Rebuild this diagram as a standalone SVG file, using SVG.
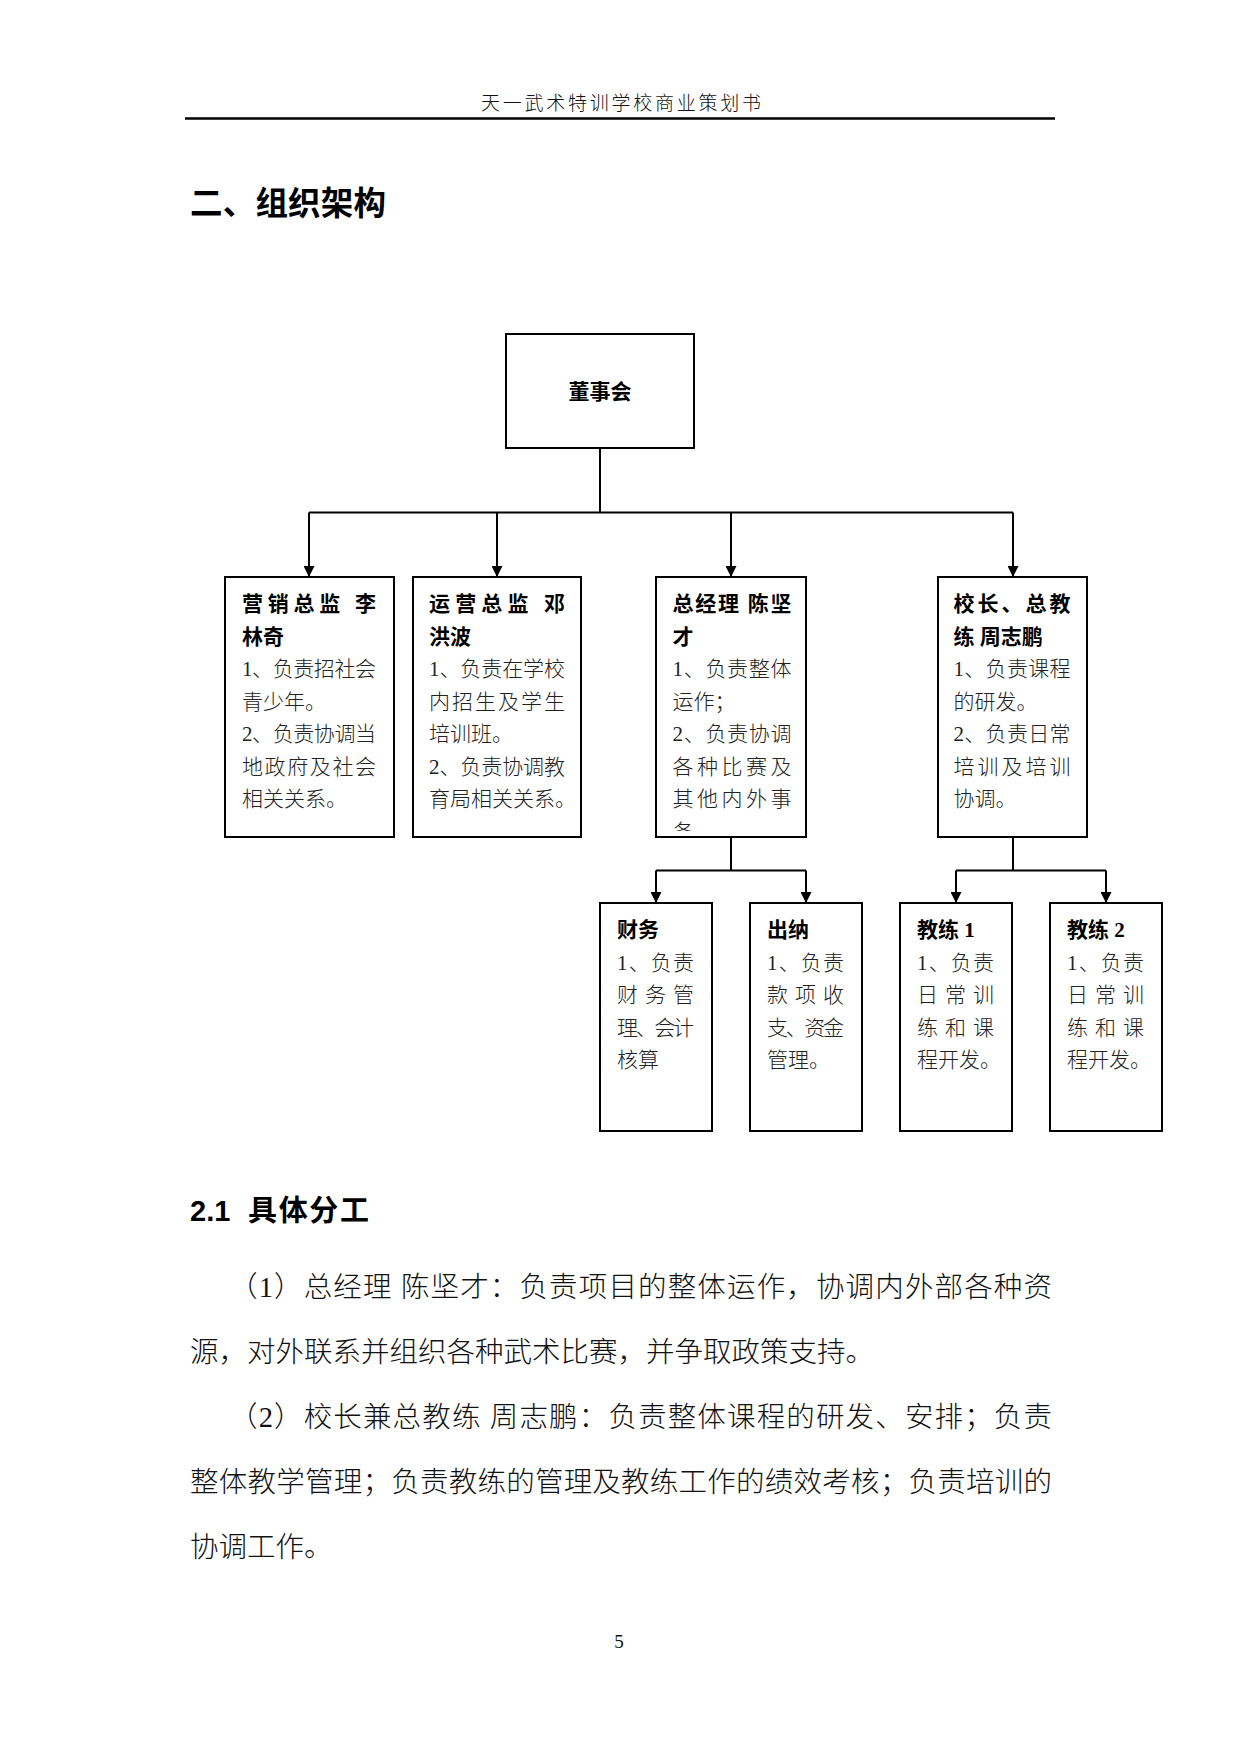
<svg xmlns="http://www.w3.org/2000/svg" width="1241" height="1754" viewBox="0 0 1241 1754">
<style>
.box{fill:#fff;stroke:#000;stroke-width:2}
.conn{fill:none;stroke:#000;stroke-width:2}
.arr{fill:none;stroke:#000;stroke-width:2;marker-end:url(#ah)}
.t{font-family:"Liberation Serif","Noto Sans CJK SC",serif;font-size:21px;font-weight:300;fill:#222}
.b{font-family:"Liberation Serif","Noto Sans CJK SC",sans-serif;font-size:21px;font-weight:bold;fill:#000}
.body{font-family:"Liberation Serif","Noto Sans CJK SC",serif;font-size:28.5px;font-weight:300;fill:#111}
.hdr{font-family:"Liberation Serif","Noto Sans CJK SC",serif;font-size:19px;font-weight:300;fill:#111}
.h1{font-family:"Liberation Sans","Noto Sans CJK SC",sans-serif;font-size:32.5px;font-weight:bold;fill:#000}
.h2{font-family:"Liberation Sans","Noto Sans CJK SC",sans-serif;font-size:29px;font-weight:bold;fill:#000}
</style>
<defs>
<marker id="ah" viewBox="0 0 10 10" refX="10" refY="5" markerWidth="12" markerHeight="11" markerUnits="userSpaceOnUse" orient="auto"><path d="M0,0 L10,5 L0,10 z" fill="#000"/></marker>
<clipPath id="clipC"><rect x="656" y="577" width="150" height="254"/></clipPath>
</defs>
<rect width="1241" height="1754" fill="#fff"/>

<g id="page-header">
<text class="hdr" x="621" y="110" text-anchor="middle" textLength="280" lengthAdjust="spacing">天一武术特训学校商业策划书</text>
<line x1="185" y1="118.6" x2="1055" y2="118.6" stroke="#000" stroke-width="2.5"/>
</g>

<text class="h1" x="190" y="215" textLength="196" lengthAdjust="spacing">二、组织架构</text>

<g id="connectors">
<path class="conn" d="M600,448 V512.5 M309,512.5 H1013"/>
<path class="arr" d="M309,512.5 V577"/>
<path class="arr" d="M497,512.5 V577"/>
<path class="arr" d="M731,512.5 V577"/>
<path class="arr" d="M1013,512.5 V577"/>
<path class="conn" d="M731,837 V870.5 M656,870.5 H806"/>
<path class="arr" d="M656,870.5 V903"/>
<path class="arr" d="M806,870.5 V903"/>
<path class="conn" d="M1013,837 V870.5 M956,870.5 H1106"/>
<path class="arr" d="M956,870.5 V903"/>
<path class="arr" d="M1106,870.5 V903"/>
</g>

<g id="board">
<rect class="box" x="506" y="334" width="188" height="114"/>
<text class="b" x="600" y="399" text-anchor="middle">董事会</text>
</g>

<g id="marketing">
<rect class="box" x="225" y="577" width="169" height="260"/>
<text class="b" x="242" y="611" textLength="134" lengthAdjust="spacing">营销总监  李</text>
<text class="b" x="242" y="643.5">林奇</text>
<text class="t" x="242" y="676" textLength="134" lengthAdjust="spacing">1、负责招社会</text>
<text class="t" x="242" y="708.5">青少年。</text>
<text class="t" x="242" y="741" textLength="134" lengthAdjust="spacing">2、负责协调当</text>
<text class="t" x="242" y="773.5" textLength="134" lengthAdjust="spacing">地政府及社会</text>
<text class="t" x="242" y="806">相关关系。</text>
</g>

<g id="operations">
<rect class="box" x="413" y="577" width="168" height="260"/>
<text class="b" x="429" y="611" textLength="136" lengthAdjust="spacing">运营总监  邓</text>
<text class="b" x="429" y="643.5">洪波</text>
<text class="t" x="429" y="676" textLength="136" lengthAdjust="spacing">1、负责在学校</text>
<text class="t" x="429" y="708.5" textLength="136" lengthAdjust="spacing">内招生及学生</text>
<text class="t" x="429" y="741">培训班。</text>
<text class="t" x="429" y="773.5" textLength="136" lengthAdjust="spacing">2、负责协调教</text>
<text class="t" x="429" y="806">育局相关关系。</text>
</g>

<g id="general-manager">
<rect class="box" x="656" y="577" width="150" height="260"/>
<text class="b" x="672.5" y="611" textLength="119" lengthAdjust="spacing">总经理 陈坚</text>
<text class="b" x="672.5" y="643.5">才</text>
<text class="t" x="672.5" y="676" textLength="119" lengthAdjust="spacing">1、负责整体</text>
<text class="t" x="672.5" y="708.5">运作；</text>
<text class="t" x="672.5" y="741" textLength="119" lengthAdjust="spacing">2、负责协调</text>
<text class="t" x="672.5" y="773.5" textLength="119" lengthAdjust="spacing">各种比赛及</text>
<text class="t" x="672.5" y="806" textLength="119" lengthAdjust="spacing">其他内外事</text>
<text class="t" x="672.5" y="838.5" clip-path="url(#clipC)">务</text>
</g>

<g id="principal">
<rect class="box" x="938" y="577" width="149" height="260"/>
<text class="b" x="953.5" y="611" textLength="117" lengthAdjust="spacing">校长、总教</text>
<text class="b" x="953.5" y="643.5">练 周志鹏</text>
<text class="t" x="953.5" y="676" textLength="117" lengthAdjust="spacing">1、负责课程</text>
<text class="t" x="953.5" y="708.5">的研发。</text>
<text class="t" x="953.5" y="741" textLength="117" lengthAdjust="spacing">2、负责日常</text>
<text class="t" x="953.5" y="773.5" textLength="117" lengthAdjust="spacing">培训及培训</text>
<text class="t" x="953.5" y="806">协调。</text>
</g>

<g id="finance">
<rect class="box" x="600" y="903" width="112" height="228"/>
<text class="b" x="617" y="937">财务</text>
<text class="t" x="617" y="969.5" textLength="77" lengthAdjust="spacing">1、负责</text>
<text class="t" x="617" y="1002" textLength="77" lengthAdjust="spacing">财务管</text>
<text class="t" x="617" y="1034.5" textLength="77" lengthAdjust="spacing">理、会计</text>
<text class="t" x="617" y="1067">核算</text>
</g>

<g id="cashier">
<rect class="box" x="750" y="903" width="112" height="228"/>
<text class="b" x="767" y="937">出纳</text>
<text class="t" x="767" y="969.5" textLength="77" lengthAdjust="spacing">1、负责</text>
<text class="t" x="767" y="1002" textLength="77" lengthAdjust="spacing">款项收</text>
<text class="t" x="767" y="1034.5" textLength="77" lengthAdjust="spacing">支、资金</text>
<text class="t" x="767" y="1067">管理。</text>
</g>

<g id="coach1">
<rect class="box" x="900" y="903" width="112" height="228"/>
<text class="b" x="917" y="937">教练 1</text>
<text class="t" x="917" y="969.5" textLength="77" lengthAdjust="spacing">1、负责</text>
<text class="t" x="917" y="1002" textLength="77" lengthAdjust="spacing">日常训</text>
<text class="t" x="917" y="1034.5" textLength="77" lengthAdjust="spacing">练和课</text>
<text class="t" x="917" y="1067">程开发。</text>
</g>

<g id="coach2">
<rect class="box" x="1050" y="903" width="112" height="228"/>
<text class="b" x="1067" y="937">教练 2</text>
<text class="t" x="1067" y="969.5" textLength="77" lengthAdjust="spacing">1、负责</text>
<text class="t" x="1067" y="1002" textLength="77" lengthAdjust="spacing">日常训</text>
<text class="t" x="1067" y="1034.5" textLength="77" lengthAdjust="spacing">练和课</text>
<text class="t" x="1067" y="1067">程开发。</text>
</g>

<text class="h2" y="1221"><tspan x="190">2.1</tspan><tspan x="248" textLength="121" lengthAdjust="spacing">具体分工</tspan></text>

<g id="body-text">
<text class="body" x="229" y="1297" textLength="823" lengthAdjust="spacing">（1）总经理 陈坚才：负责项目的整体运作，协调内外部各种资</text>
<text class="body" x="190" y="1362">源，对外联系并组织各种武术比赛，并争取政策支持。</text>
<text class="body" x="229" y="1427" textLength="823" lengthAdjust="spacing">（2）校长兼总教练 周志鹏：负责整体课程的研发、安排；负责</text>
<text class="body" x="190" y="1492" textLength="862" lengthAdjust="spacing">整体教学管理；负责教练的管理及教练工作的绩效考核；负责培训的</text>
<text class="body" x="190" y="1557">协调工作。</text>
</g>

<text class="hdr" x="619" y="1648" text-anchor="middle" font-size="18">5</text>
</svg>
